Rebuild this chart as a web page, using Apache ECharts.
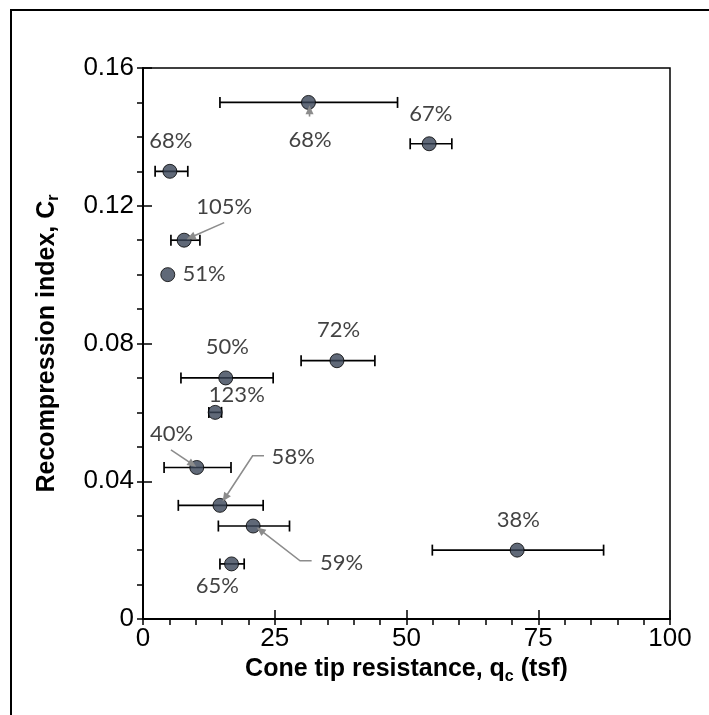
<!DOCTYPE html>
<html>
<head>
<meta charset="utf-8">
<script src="https://cdn.jsdelivr.net/npm/echarts@6/dist/echarts.min.js"></script>
<style>html,body{margin:0;padding:0;background:#fff}#c{width:709px;height:715px}</style>
</head>
<body>
<div id="c"></div>
<script>
// Cone tip resistance (tsf) and recompression index
const qc     = [31.4, 54.3, 5.1, 7.8, 4.7, 36.8, 15.7, 13.7, 10.2, 14.6, 20.9, 71.0, 16.8];
const cr     = [0.150, 0.138, 0.130, 0.110, 0.100, 0.075, 0.070, 0.060, 0.044, 0.033, 0.027, 0.020, 0.016];
const qcLow  = [14.6, 50.7, 2.3, 5.3, 4.7, 30.0, 7.2, 12.5, 4.0, 6.7, 14.3, 54.9, 14.6];
const qcHigh = [48.3, 58.6, 8.5, 10.8, 4.7, 44.0, 24.7, 14.9, 16.7, 22.8, 27.8, 87.4, 19.2];

// annotation labels (data coordinates)
const labelText = ['68%', '67%', '68%', '105%', '51%', '72%', '50%', '123%', '40%', '58%', '59%', '38%', '65%'];
const labelX    = [31.7, 54.6, 5.3, 15.4, 11.6, 37.1, 16.0, 17.8, 5.4, 28.5, 37.7, 71.2, 14.1];
const labelY    = [0.1391, 0.1468, 0.1389, 0.1197, 0.1002, 0.0839, 0.0789, 0.0650, 0.0537, 0.0470, 0.0162, 0.0289, 0.0097];

// leader arrows (data coordinates)
const arrows = [
  [[31.6, 0.1459], [31.6, 0.1492]],
  [[15.4, 0.1151], [8.3, 0.1103]],
  [[5.3, 0.0491], [10.1, 0.0442]],
  [[22.96, 0.0474], [20.8, 0.0474], [15.1, 0.0341]],
  [[32.0, 0.0169], [29.8, 0.0169], [21.6, 0.0266]]
];

const xTicks = [0, 25, 50, 75, 100];
const yTicks = [0, 0.04, 0.08, 0.12, 0.16];

const chart = echarts.init(document.getElementById('c'));
const errData = qc.map((v, i) => [qcLow[i], qcHigh[i], cr[i]]);
const ptData = qc.map((v, i) => [v, cr[i]]);
const lblData = labelText.map((t, i) => ({value: [labelX[i], labelY[i]], name: t}));
const arrowData = arrows.map((p, i) => [p[p.length - 1][0], p[p.length - 1][1], i]);

const axisBase = {
  axisLine: {show: true, lineStyle: {color: '#000', width: 2}},
  splitLine: {show: false}
};
const titleRich = {
  b: {fontFamily: 'Liberation Sans', fontWeight: 'bold', fontSize: 25, color: '#000'},
  s: {fontFamily: 'Liberation Sans', fontWeight: 'bold', fontSize: 16, color: '#000', padding: [14, 0, 0, 0]}
};

chart.setOption({
  animation: false,
  graphic: [{
    type: 'rect', shape: {x: 11, y: 10, width: 720, height: 720},
    style: {fill: 'none', stroke: '#000', lineWidth: 2}, z: 0
  }],
  grid: {left: 143, top: 68, right: 39, bottom: 96, show: true, borderColor: '#000', borderWidth: 1.5, backgroundColor: 'transparent'},
  xAxis: [
    Object.assign({}, axisBase, {
      type: 'value', min: xTicks[0], max: xTicks[xTicks.length - 1], interval: 25,
      name: '{b|Cone tip resistance, q}{s|c}{b| (tsf)}',
      nameLocation: 'middle', nameGap: 30,
      nameTextStyle: {fontFamily: 'Liberation Sans', fontWeight: 'bold', fontSize: 25, color: '#000', rich: titleRich},
      axisTick: {show: true, inside: false, length: 6, lineStyle: {color: '#000', width: 1.5}},
      minorTick: {show: true, splitNumber: 5, length: 6, lineStyle: {color: '#000', width: 1.5}},
      axisLabel: {fontFamily: 'Liberation Sans', fontSize: 26, color: '#000', margin: 7}
    }),
    {
      type: 'value', min: 0, max: 100, interval: 25, position: 'bottom',
      axisLine: {show: false}, splitLine: {show: false},
      axisTick: {show: true, inside: true, length: 9, lineStyle: {color: '#000', width: 1.5}},
      axisLabel: {show: false}
    }
  ],
  yAxis: [
    Object.assign({}, axisBase, {
      type: 'value', min: yTicks[0], max: yTicks[yTicks.length - 1], interval: 0.04,
      name: '{b|Recompression index, C}{s|r}',
      nameLocation: 'middle', nameGap: 81, nameRotate: 90,
      nameTextStyle: {fontFamily: 'Liberation Sans', fontWeight: 'bold', fontSize: 25, color: '#000', rich: titleRich},
      axisTick: {show: true, inside: false, length: 6, lineStyle: {color: '#000', width: 1.5}},
      minorTick: {show: true, splitNumber: 4, length: 6, lineStyle: {color: '#000', width: 1.5}},
      axisLabel: {fontFamily: 'Liberation Sans', fontSize: 26, color: '#000', margin: 9,
        formatter: v => (v === 0 ? '0' : v.toFixed(2))}
    }),
    {
      type: 'value', min: 0, max: 0.16, interval: 0.04, position: 'left',
      axisLine: {show: false}, splitLine: {show: false},
      axisTick: {show: true, inside: true, length: 9, lineStyle: {color: '#000', width: 1.5}},
      axisLabel: {show: false}
    }
  ],
  series: [
    {
      type: 'custom', xAxisIndex: 0, yAxisIndex: 0, z: 2, data: errData,
      renderItem: function (params, api) {
        const lo = api.value(0), hi = api.value(1), y = api.value(2);
        if (hi - lo < 0.01) return {type: 'group', children: []};
        const a = api.coord([lo, y]), b = api.coord([hi, y]);
        const st = {stroke: '#000', lineWidth: 1.7};
        return {type: 'group', children: [
          {type: 'line', shape: {x1: a[0], y1: a[1], x2: b[0], y2: b[1]}, style: st},
          {type: 'line', shape: {x1: a[0], y1: a[1] - 5.5, x2: a[0], y2: a[1] + 5.5}, style: st},
          {type: 'line', shape: {x1: b[0], y1: b[1] - 5.5, x2: b[0], y2: b[1] + 5.5}, style: st}
        ]};
      }
    },
    {
      type: 'scatter', z: 3, data: ptData, symbol: 'circle', symbolSize: 14,
      itemStyle: {color: '#384356', borderColor: '#000', borderWidth: 1}
    },
    {
      type: 'custom', z: 4, data: arrowData,
      renderItem: function (params, api) {
        const path = arrows[api.value(2)].map(p => api.coord(p));
        const n = path.length;
        const e = path[n - 1], s = path[n - 2];
        const dx = e[0] - s[0], dy = e[1] - s[1];
        const L = Math.sqrt(dx * dx + dy * dy) || 1;
        const ux = dx / L, uy = dy / L;
        const hl = 9, hw = 4;
        const bx = e[0] - ux * hl, by = e[1] - uy * hl;
        const lineEnd = [e[0] - ux * (hl - 2), e[1] - uy * (hl - 2)];
        const pts = path.slice(0, n - 1).concat([lineEnd]);
        return {type: 'group', children: [
          {type: 'polyline', shape: {points: pts}, style: {stroke: '#8C8C8C', lineWidth: 1.6, fill: 'none'}},
          {type: 'polygon', shape: {points: [e, [bx - uy * hw, by + ux * hw], [bx + uy * hw, by - ux * hw]]},
            style: {fill: '#8C8C8C'}}
        ]};
      }
    },
    {
      type: 'scatter', z: 5, data: lblData, symbolSize: 1,
      itemStyle: {color: 'transparent'},
      label: {show: true, position: 'inside', formatter: p => p.name,
        fontFamily: 'Lato', fontSize: 22, color: '#111'}
    }
  ]
});
</script>
</body>
</html>
